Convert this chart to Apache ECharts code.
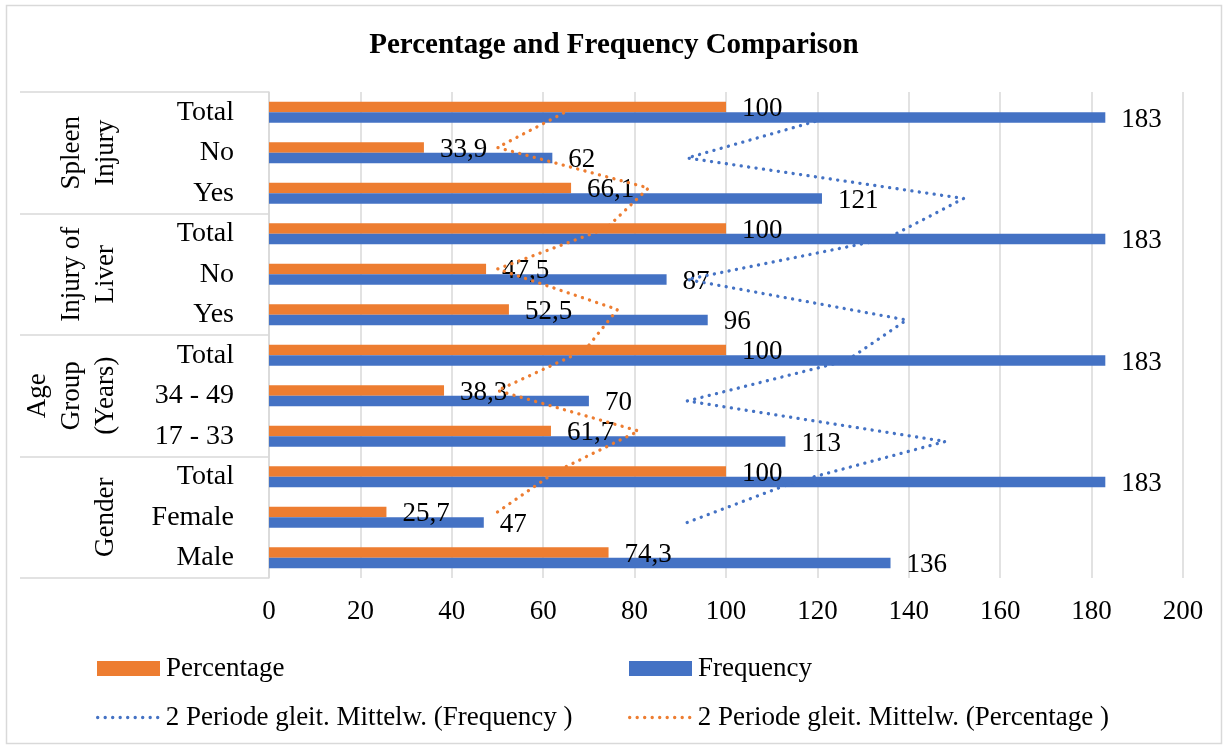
<!DOCTYPE html>
<html>
<head>
<meta charset="utf-8">
<script src="https://cdn.jsdelivr.net/npm/echarts@6/dist/echarts.min.js"></script>
<style>
  html, body { margin: 0; padding: 0; background: #fff; }
  #chart { width: 1228px; height: 749px; }
</style>
</head>
<body>
<div id="chart"></div>
<script>
// categories, bottom to top
const categories = ['Male', 'Female', 'Total', '17 - 33', '34 - 49', 'Total', 'Yes', 'No', 'Total', 'Yes', 'No', 'Total'];
const groups = ['Gender', 'Age\nGroup\n(Years)', 'Injury of\nLiver', 'Spleen\nInjury'];

const percentage = [74.3, 25.7, 100, 61.7, 38.3, 100, 52.5, 47.5, 100, 66.1, 33.9, 100];
const frequency = [136, 47, 183, 113, 70, 183, 96, 87, 183, 121, 62, 183];

// 2 period moving averages (first category has no value)
const maFrequency = [null, 91.5, 115, 148, 91.5, 126.5, 139.5, 91.5, 135, 152, 91.5, 122.5];
const maPercentage = [null, 50, 62.85, 80.85, 50, 69.15, 76.25, 50, 73.75, 83.05, 50, 66.95];

const xMin = 0;
const xMax = 200;
const xStep = 20;

const FONT = 'Liberation Serif';
const ORANGE = '#ED7D31';
const BLUE = '#4472C4';
const GRIDLINE = '#D9D9D9';

const chart = echarts.init(document.getElementById('chart'));

// plot area
const gLeft = 269, gRight = 45, gTop = 92, gBottom = 171;
const half = 5.25; // half bar thickness, lines sit on bar centres

const fmt = (p) => String(p.value).replace('.', ',');

const hiddenX = (idx) => ({ type: 'value', gridIndex: idx, min: xMin, max: xMax, interval: xStep, show: false });
const hiddenY = (idx) => ({ type: 'category', gridIndex: idx, data: categories, show: false });

const dotted = (color) => ({
  color: color,
  width: 3.3,
  type: [0.1, 7.4],
  cap: 'round'
});

const barLabel = {
  show: true,
  position: 'right',
  distance: 16,
  offset: [0, 2],
  formatter: fmt,
  fontFamily: FONT,
  fontSize: 27,
  color: '#000'
};

const option = {
  backgroundColor: '#fff',
  animation: false,
  title: {
    text: 'Percentage and Frequency Comparison',
    left: 'center',
    top: 31,
    padding: 0,
    textStyle: { fontFamily: FONT, fontSize: 29, fontWeight: 'bold', color: '#000' }
  },
  graphic: [{
    type: 'rect',
    shape: { x: 6.5, y: 5.5, width: 1215, height: 738 },
    style: { fill: null, stroke: GRIDLINE, lineWidth: 1.5 },
    silent: true
  }],
  legend: [
    { data: ['Percentage'], left: 97, top: 655, icon: 'rect' },
    { data: ['Frequency'], left: 629, top: 655, icon: 'rect' },
    { data: ['2 Periode gleit. Mittelw. (Frequency )'], left: 96, top: 704, itemWidth: 62, itemStyle: { opacity: 0 }, lineStyle: dotted(BLUE) },
    { data: ['2 Periode gleit. Mittelw. (Percentage )'], left: 628, top: 704, itemWidth: 62, itemStyle: { opacity: 0 }, lineStyle: dotted(ORANGE) }
  ].map(l => Object.assign({
    orient: 'horizontal',
    padding: 0,
    itemWidth: 63,
    itemHeight: 15,
    selectedMode: false,
    textStyle: { fontFamily: FONT, fontSize: 27, color: '#000', padding: [0, 0, 0, 1] }
  }, l)),
  grid: [
    { left: gLeft, right: gRight, top: gTop, bottom: gBottom },
    { left: gLeft, right: gRight, top: gTop + half, bottom: gBottom - half },
    { left: gLeft, right: gRight, top: gTop - half, bottom: gBottom + half }
  ],
  xAxis: [
    {
      type: 'value',
      gridIndex: 0,
      min: xMin,
      max: xMax,
      interval: xStep,
      axisLine: { show: false },
      axisTick: { show: false },
      splitLine: { show: true, lineStyle: { color: GRIDLINE, width: 1.5 } },
      axisLabel: { fontFamily: FONT, fontSize: 27, color: '#000', margin: 20 }
    },
    hiddenX(1),
    hiddenX(2)
  ],
  yAxis: [
    {
      type: 'category',
      gridIndex: 0,
      data: categories,
      axisLine: { show: true, lineStyle: { color: GRIDLINE, width: 1.5 } },
      axisTick: { show: false },
      axisLabel: { fontFamily: FONT, fontSize: 28, color: '#000', margin: 35, interval: 0 }
    },
    {
      // outer group level of the multi-level axis
      type: 'category',
      gridIndex: 0,
      position: 'left',
      data: groups,
      axisLine: { show: false },
      axisTick: { show: true, interval: 0, length: 249, lineStyle: { color: GRIDLINE, width: 1.5 } },
      axisLabel: {
        rotate: 90, margin: 146, interval: 0,
        fontFamily: FONT, fontSize: 27, lineHeight: 34, color: '#000', align: 'center'
      }
    },
    hiddenY(1),
    hiddenY(2)
  ],
  series: [
    {
      name: 'Percentage',
      type: 'bar',
      xAxisIndex: 0,
      yAxisIndex: 0,
      data: percentage,
      barWidth: 10.5,
      barGap: '0%',
      itemStyle: { color: ORANGE },
      label: barLabel,
      z: 2
    },
    {
      name: 'Frequency',
      type: 'bar',
      xAxisIndex: 0,
      yAxisIndex: 0,
      data: frequency,
      barWidth: 10.5,
      barGap: '0%',
      itemStyle: { color: BLUE },
      label: barLabel,
      z: 2
    },
    {
      name: '2 Periode gleit. Mittelw. (Frequency )',
      type: 'line',
      xAxisIndex: 1,
      yAxisIndex: 2,
      data: maFrequency,
      symbol: 'none',
      itemStyle: { color: BLUE },
      lineStyle: dotted(BLUE),
      z: 3
    },
    {
      name: '2 Periode gleit. Mittelw. (Percentage )',
      type: 'line',
      xAxisIndex: 2,
      yAxisIndex: 3,
      data: maPercentage,
      symbol: 'none',
      itemStyle: { color: ORANGE },
      lineStyle: dotted(ORANGE),
      z: 3
    }
  ]
};

chart.setOption(option);
</script>
</body>
</html>
